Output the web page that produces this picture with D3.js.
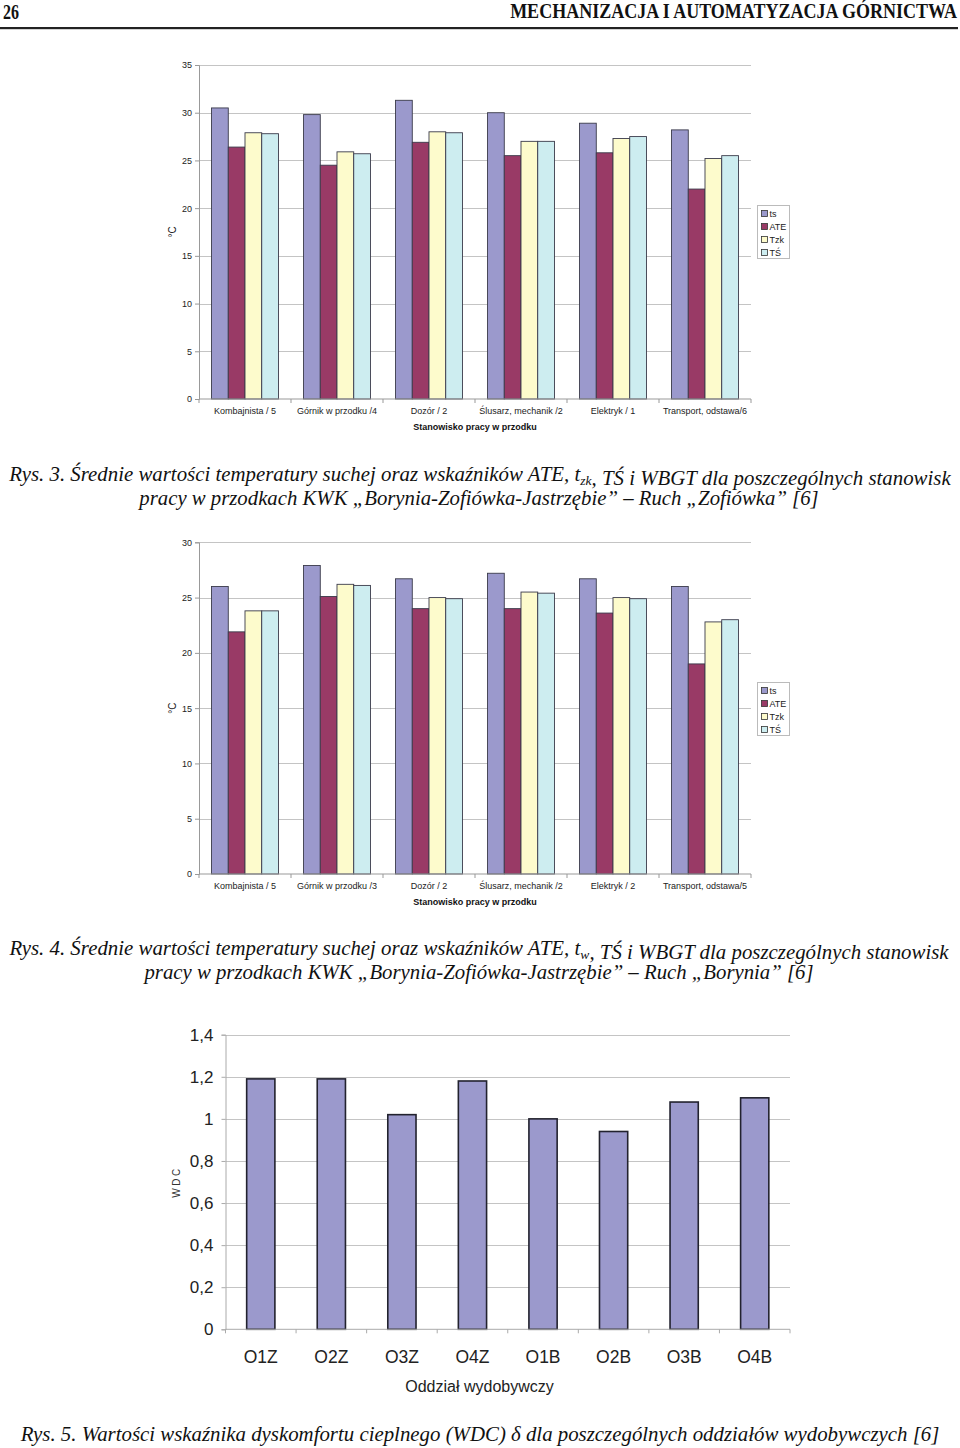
<!DOCTYPE html>
<html><head><meta charset="utf-8">
<script src="https://cdn.jsdelivr.net/npm/d3@7"></script>
<style>body{margin:0;background:#fff}svg{display:block}</style>
</head><body>
<script>
// ---------- DATA ----------
const seriesNames = ["ts", "ATE", "Tzk", "TŚ"];
const seriesColors = ["#9b99cc", "#993a66", "#fdfbcc", "#cdedf0"];

const categories1 = ["Kombajnista / 5", "Górnik w przodku /4", "Dozór / 2", "Ślusarz, mechanik /2", "Elektryk / 1", "Transport, odstawa/6"];
const ts1  = [30.5, 29.8, 31.3, 30.0, 28.9, 28.2];
const ate1 = [26.4, 24.5, 26.9, 25.5, 25.8, 22.0];
const tzk1 = [27.9, 25.9, 28.0, 27.0, 27.3, 25.2];
const tsz1 = [27.8, 25.7, 27.9, 27.0, 27.5, 25.5];
const yTicks1 = [0, 5, 10, 15, 20, 25, 30, 35];

const categories2 = ["Kombajnista / 5", "Górnik w przodku /3", "Dozór / 2", "Ślusarz, mechanik /2", "Elektryk / 2", "Transport, odstawa/5"];
const ts2  = [26.0, 27.9, 26.7, 27.2, 26.7, 26.0];
const ate2 = [21.9, 25.1, 24.0, 24.0, 23.6, 19.0];
const tzk2 = [23.8, 26.2, 25.0, 25.5, 25.0, 22.8];
const tsz2 = [23.8, 26.1, 24.9, 25.4, 24.9, 23.0];
const yTicks2 = [0, 5, 10, 15, 20, 25, 30];

const categories3 = ["O1Z", "O2Z", "O3Z", "O4Z", "O1B", "O2B", "O3B", "O4B"];
const wdc3 = [1.19, 1.19, 1.02, 1.18, 1.00, 0.94, 1.08, 1.10];
const yTicks3 = [0, 0.2, 0.4, 0.6, 0.8, 1, 1.2, 1.4];

// ---------- SVG ----------
const W = 960, H = 1448;
const svg = d3.select("body").append("svg").attr("width", W).attr("height", H)
  .style("font-family", "'Liberation Sans', Arial, sans-serif");

function fit(node, targetW, anchorX) {
  const bb = node.getBBox();
  const sx = targetW / bb.width;
  const ax = anchorX === undefined ? bb.x + bb.width / 2 : anchorX;
  node.setAttribute("transform", `translate(${ax},0) scale(${sx},1) translate(${-ax},0)`);
}

// ---------- HEADER ----------
const serif = "'Liberation Serif', 'Times New Roman', serif";
const h1 = svg.append("text").attr("x", 3).attr("y", 18.5).attr("font-family", serif)
  .attr("font-weight", "bold").attr("font-size", 21).attr("fill", "#111").text("26");
fit(h1.node(), 16, 3);
const h2 = svg.append("text").attr("x", 957).attr("y", 18.5).attr("text-anchor", "end").attr("font-family", serif)
  .attr("font-weight", "bold").attr("font-size", 21).attr("fill", "#111").text("MECHANIZACJA I AUTOMATYZACJA GÓRNICTWA");
fit(h2.node(), 448, 957);
svg.append("rect").attr("x", 0).attr("y", 27).attr("width", 958).attr("height", 2.2).attr("fill", "#222");

// ---------- GROUPED CHART ----------
function groupedChart(cfg) {
  const g = svg.append("g");
  const x0 = d3.scaleBand().domain(cfg.categories).range([cfg.left, cfg.right])
    .paddingInner(1.5 / 5.5).paddingOuter(0.75 / 5.5);
  const x1 = d3.scaleBand().domain(seriesNames).range([0, x0.bandwidth()]);
  const y = d3.scaleLinear().domain([0, cfg.ymax]).range([cfg.bottom, cfg.top]);
  const color = d3.scaleOrdinal().domain(seriesNames).range(seriesColors);

  g.append("g").selectAll("line").data(cfg.yTicks.filter(d => d > 0)).join("line")
    .attr("x1", cfg.left).attr("x2", cfg.right)
    .attr("y1", d => Math.round(y(d)) + 0.5).attr("y2", d => Math.round(y(d)) + 0.5)
    .attr("stroke", "#c4c4c4").attr("stroke-width", 1);

  const ya = g.append("g").attr("transform", `translate(${cfg.left},0)`)
    .call(d3.axisLeft(y).tickValues(cfg.yTicks).tickSize(4).tickPadding(3));
  ya.select(".domain").attr("stroke", "#999");
  ya.selectAll(".tick line").attr("stroke", "#999");
  ya.selectAll(".tick text").attr("font-size", 9).attr("fill", "#222").attr("font-family", "'Liberation Sans', Arial, sans-serif");

  const series = [cfg.ts, cfg.ate, cfg.tzk, cfg.tsz];
  const gg = g.append("g").selectAll("g").data(cfg.categories).join("g")
    .attr("transform", d => `translate(${x0(d)},0)`);
  gg.selectAll("rect").data((c, i) => seriesNames.map((s, k) => ({ s, v: series[k][i] }))).join("rect")
    .attr("x", d => x1(d.s)).attr("width", x1.bandwidth())
    .attr("y", d => y(d.v)).attr("height", d => y(0) - y(d.v))
    .attr("fill", d => color(d.s)).attr("stroke", "#3a3a4a").attr("stroke-width", 0.9);

  const step = x0.step();
  const xa = g.append("g").attr("transform", `translate(0,${cfg.bottom})`);
  xa.append("line").attr("x1", cfg.left).attr("x2", cfg.right).attr("stroke", "#999");
  xa.selectAll("line.tk").data(d3.range(cfg.categories.length + 1)).join("line").attr("class", "tk")
    .attr("x1", i => cfg.left + i * step).attr("x2", i => cfg.left + i * step)
    .attr("y1", 0).attr("y2", 4).attr("stroke", "#999");
  xa.selectAll("text").data(cfg.categories).join("text")
    .attr("x", d => x0(d) + x0.bandwidth() / 2).attr("y", 15)
    .attr("text-anchor", "middle").attr("font-size", 9).attr("fill", "#222").text(d => d);

  g.append("text").attr("x", (cfg.left + cfg.right) / 2).attr("y", cfg.bottom + 31)
    .attr("text-anchor", "middle").attr("font-size", 9).attr("font-weight", "bold").attr("fill", "#111")
    .text("Stanowisko pracy w przodku");

  g.append("text").attr("transform", `translate(${cfg.left - 23},${(cfg.top + cfg.bottom) / 2}) rotate(-90)`)
    .attr("text-anchor", "middle").attr("font-size", 10).attr("fill", "#222").text("°C");

  const lg = g.append("g").attr("transform", `translate(${cfg.legX},${cfg.legY})`);
  lg.append("rect").attr("x", 0).attr("y", 0).attr("width", 32).attr("height", 53)
    .attr("fill", "#fff").attr("stroke", "#bbb").attr("stroke-width", 1);
  const it = lg.selectAll("g").data(seriesNames).join("g")
    .attr("transform", (d, i) => `translate(4,${5 + i * 13})`);
  it.append("rect").attr("x", 0).attr("y", 0).attr("width", 6).attr("height", 6)
    .attr("fill", d => color(d)).attr("stroke", "#333").attr("stroke-width", 0.8);
  it.append("text").attr("x", 8).attr("y", 6.5).attr("font-size", 9).attr("fill", "#222").text(d => d);
}

groupedChart({ categories: categories1, ts: ts1, ate: ate1, tzk: tzk1, tsz: tsz1, yTicks: yTicks1, ymax: 35,
  left: 199, right: 751, top: 65, bottom: 399, legX: 757.5, legY: 205.5 });
groupedChart({ categories: categories2, ts: ts2, ate: ate2, tzk: tzk2, tsz: tsz2, yTicks: yTicks2, ymax: 30,
  left: 199, right: 751, top: 542.3, bottom: 874, legX: 757.5, legY: 682.5 });

// ---------- WDC CHART ----------
(function () {
  const left = 225.5, right = 790, top = 1034.7, bottom = 1329.3;
  const g = svg.append("g");
  const x = d3.scaleBand().domain(categories3).range([left, right]).paddingInner(0.6).paddingOuter(0.3);
  const y = d3.scaleLinear().domain([0, 1.4]).range([bottom, top]);
  g.append("g").selectAll("line").data(yTicks3.filter(d => d > 0)).join("line")
    .attr("x1", left).attr("x2", right)
    .attr("y1", d => Math.round(y(d)) + 0.5).attr("y2", d => Math.round(y(d)) + 0.5)
    .attr("stroke", "#c4c4c4");
  const fmt = d => String(+d.toFixed(1)).replace(".", ",");
  const ya = g.append("g").attr("transform", `translate(${left},0)`)
    .call(d3.axisLeft(y).tickValues(yTicks3).tickFormat(fmt).tickSize(4).tickPadding(8));
  ya.select(".domain").attr("stroke", "#aaa");
  ya.selectAll(".tick line").attr("stroke", "#aaa");
  ya.selectAll(".tick text").attr("font-size", 17).attr("fill", "#222").attr("font-family", "'Liberation Sans', Arial, sans-serif");

  g.append("g").selectAll("rect").data(categories3).join("rect")
    .attr("x", d => x(d)).attr("width", x.bandwidth())
    .attr("y", (d, i) => y(wdc3[i])).attr("height", (d, i) => y(0) - y(wdc3[i]))
    .attr("fill", "#9b99cc").attr("stroke", "#22222e").attr("stroke-width", 1.6);

  const step = x.step();
  const xa = g.append("g").attr("transform", `translate(0,${bottom})`);
  xa.append("line").attr("x1", left).attr("x2", right).attr("stroke", "#aaa");
  xa.selectAll("line.tk").data(d3.range(categories3.length + 1)).join("line").attr("class", "tk")
    .attr("x1", i => left + i * step).attr("x2", i => left + i * step)
    .attr("y1", 0).attr("y2", 4).attr("stroke", "#aaa");
  xa.selectAll("text").data(categories3).join("text")
    .attr("x", d => x(d) + x.bandwidth() / 2).attr("y", 34)
    .attr("text-anchor", "middle").attr("font-size", 17.5).attr("fill", "#222").text(d => d);

  g.append("text").attr("x", 479.5).attr("y", bottom + 63).attr("text-anchor", "middle")
    .attr("font-size", 16).attr("fill", "#222").text("Oddział wydobywczy");
  g.append("text").attr("transform", `translate(180,${(top + bottom) / 2}) rotate(-90)`)
    .attr("text-anchor", "middle").attr("font-size", 10).attr("letter-spacing", 2.5).attr("fill", "#333").text("WDC");
})();

// ---------- CAPTIONS ----------
function caption(parts, cx, baseline, width) {
  const t = svg.append("text").attr("x", cx).attr("y", baseline).attr("text-anchor", "middle")
    .attr("font-family", serif).attr("font-style", "italic").attr("font-size", 20).attr("fill", "#111");
  parts.forEach(p => {
    if (typeof p === "string") t.append("tspan").text(p);
    else {
      t.append("tspan").attr("dy", 4).attr("font-size", 13).text(p.sub);
      t.append("tspan").attr("dy", -4).text("");
    }
  });
  fit(t.node(), width, cx);
}
caption(["Rys. 3. Średnie wartości temperatury suchej oraz wskaźników ATE, t", { sub: "zk" }, ", TŚ i WBGT dla poszczególnych stanowisk"], 480, 481, 944);
caption(["pracy w przodkach KWK „Borynia-Zofiówka-Jastrzębie” – Ruch „Zofiówka” [6]"], 479, 505, 682);
caption(["Rys. 4. Średnie wartości temperatury suchej oraz wskaźników ATE, t", { sub: "w" }, ", TŚ i WBGT dla poszczególnych stanowisk"], 479, 955, 942);
caption(["pracy w przodkach KWK „Borynia-Zofiówka-Jastrzębie” – Ruch „Borynia” [6]"], 479, 979, 672);
caption(["Rys. 5. Wartości wskaźnika dyskomfortu cieplnego (WDC) δ dla poszczególnych oddziałów wydobywczych [6]"], 480, 1441, 920);
</script>
</body></html>
